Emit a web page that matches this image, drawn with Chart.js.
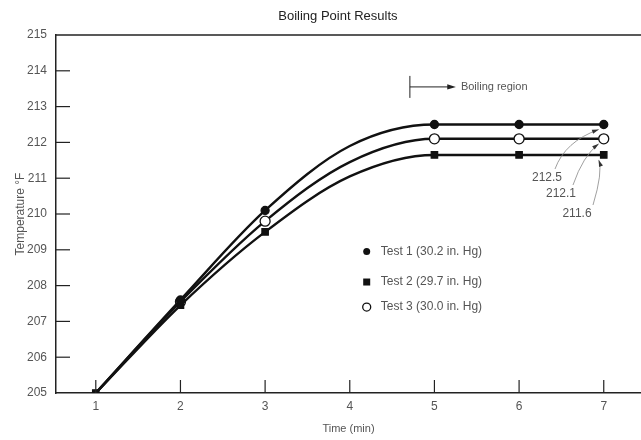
<!DOCTYPE html>
<html>
<head>
<meta charset="utf-8">
<script src="https://cdn.jsdelivr.net/npm/chart.js@4/dist/chart.umd.min.js"></script>
<style>
  html, body { margin:0; padding:0; background:#fff; }
  #wrap { width:641px; height:440px; }
</style>
</head>
<body>
<div id="wrap"><canvas id="c"></canvas></div>
<script>
// boiling point chart — three tests, temp vs time

const timeMin = [1, 2, 3, 4, 5, 6, 7];
const test1 = [205, 207.6, 210.1, 211.9, 212.5, 212.5, 212.5];
const test2 = [205, 207.45, 209.5, 211.05, 211.65, 211.65, 211.65];
const test3 = [205, 207.55, 209.8, 211.45, 212.1, 212.1, 212.1];
const seriesNames = ['Test 1 (30.2 in. Hg)', 'Test 2 (29.7 in. Hg)', 'Test 3 (30.0 in. Hg)'];
const endLabels = ['212.5', '212.1', '211.6'];
const xTicks = [1, 2, 3, 4, 5, 6, 7];
const yTicks = [205, 206, 207, 208, 209, 210, 211, 212, 213, 214, 215];

const INK = '#111';
const GREY = '#555';
const FONT = "'Liberation Sans', Arial, sans-serif";

function ds(label, data, style, radius, skip) {
    return {
        label, data: data.map((y, i) => ({x: timeMin[i], y})),
        borderColor: INK, borderWidth: 2.4,
        pointStyle: style,
        // no marker where the curve only passes through (x=4)
        pointRadius: ctx => skip.includes(ctx.dataIndex) ? 0 : radius,
        pointBackgroundColor: INK,
        pointBorderColor: INK, pointBorderWidth: 1.3,
        cubicInterpolationMode: 'monotone', fill: false
    };
}

const datasets = [
    ds(seriesNames[0], test1, 'circle', 4, [0, 3]),
    ds(seriesNames[1], test2, 'rect', 4.5, [3]),
    {...ds(seriesNames[2], test3, 'circle', 5, [0, 3]), pointBackgroundColor: '#fff'}
];

function marker(ctx, kind, x, y) {
    ctx.save();
    ctx.fillStyle = INK; ctx.strokeStyle = INK; ctx.lineWidth = 1.3;
    if (kind === 0) { ctx.beginPath(); ctx.arc(x, y, 3.5, 0, Math.PI*2); ctx.fill(); }
    else if (kind === 1) { ctx.fillRect(x-3.5, y-3.5, 7, 7); }
    else { ctx.fillStyle = '#fff'; ctx.beginPath(); ctx.arc(x, y, 4, 0, Math.PI*2); ctx.fill(); ctx.stroke(); }
    ctx.restore();
}

function arrowHead(ctx, x, y, ang, len) {
    ctx.beginPath();
    ctx.moveTo(x, y);
    ctx.lineTo(x - len*Math.cos(ang - 0.3), y - len*Math.sin(ang - 0.3));
    ctx.lineTo(x - len*Math.cos(ang + 0.3), y - len*Math.sin(ang + 0.3));
    ctx.closePath(); ctx.fill();
}

const decor = {
    id: 'decor',
    afterDraw(chart) {
        const {ctx, chartArea: a, scales: {x, y}} = chart;
        ctx.save();

        // title
        ctx.fillStyle = '#222';
        ctx.font = '13px ' + FONT;
        ctx.textAlign = 'center'; ctx.textBaseline = 'middle';
        ctx.fillText('Boiling Point Results', x.getPixelForValue(3.86), 16);

        // top frame line
        ctx.strokeStyle = '#222'; ctx.lineWidth = 1.5;
        ctx.beginPath(); ctx.moveTo(a.left, a.top); ctx.lineTo(a.right, a.top); ctx.stroke();

        // inward ticks
        ctx.lineWidth = 1.2;
        yTicks.slice(1, -1).forEach(v => {
            const py = y.getPixelForValue(v);
            ctx.beginPath(); ctx.moveTo(a.left, py); ctx.lineTo(a.left + 14, py); ctx.stroke();
        });
        xTicks.forEach(v => {
            const px = x.getPixelForValue(v);
            ctx.beginPath(); ctx.moveTo(px, a.bottom); ctx.lineTo(px, a.bottom - 13); ctx.stroke();
        });

        // boiling region marker
        const bx = x.getPixelForValue(4.71), by = y.getPixelForValue(213.55);
        ctx.strokeStyle = '#222'; ctx.fillStyle = '#222'; ctx.lineWidth = 1;
        ctx.beginPath(); ctx.moveTo(bx, by - 11); ctx.lineTo(bx, by + 11); ctx.stroke();
        ctx.beginPath(); ctx.moveTo(bx, by); ctx.lineTo(bx + 40, by); ctx.stroke();
        arrowHead(ctx, bx + 46, by, 0, 9);
        ctx.fillStyle = GREY; ctx.font = '11px ' + FONT;
        ctx.textAlign = 'left';
        ctx.fillText('Boiling region', bx + 51, by);

        // legend inside plot
        ctx.font = '12px ' + FONT;
        const lx = x.getPixelForValue(4.2);
        [208.95, 208.1, 207.4].forEach((v, i) => {
            const py = y.getPixelForValue(v);
            marker(ctx, i, lx, py);
            ctx.fillStyle = GREY;
            ctx.fillText(seriesNames[i], lx + 14, py);
        });

        // end value callouts
        const endX = x.getPixelForValue(7);
        const series = [test1, test3, test2];
        const lab = [[547, 178], [561, 194], [577, 214]];
        ctx.strokeStyle = '#888'; ctx.lineWidth = 0.8;
        series.forEach((s, i) => {
            const ty = y.getPixelForValue(s[6]);
            const [tx, ly] = lab[i];
            const sx = tx + 8 + i*4, sy = ly - 9;
            const ex = endX - 5, ey = ty + 5;
            const cx = sx + 10, cy = ey + 12;
            ctx.beginPath(); ctx.moveTo(sx, sy);
            ctx.quadraticCurveTo(cx, cy, ex, ey); ctx.stroke();
            ctx.fillStyle = '#333';
            arrowHead(ctx, ex, ey, Math.atan2(ey - cy, ex - cx), 7);
            ctx.fillStyle = GREY; ctx.textAlign = 'center';
            ctx.fillText(endLabels[i], tx, ly);
        });
        ctx.restore();
    }
};

new Chart(document.getElementById('c'), {
    type: 'line',
    data: {datasets},
    options: {
        responsive: true, maintainAspectRatio: false, animation: false,
        layout: {autoPadding: false, padding: {top: 35, right: 0, left: 0, bottom: 0}},
        plugins: {legend: {display: false}, tooltip: {enabled: false}, title: {display: false}},
        scales: {
            x: {
                type: 'linear', min: 0.53, max: 7.44,
                afterBuildTicks: s => { s.ticks = xTicks.map(v => ({value: v})); },
                afterFit: s => { s.height = 47; s.paddingLeft = 0; s.paddingRight = 0; },
                grid: {display: false, drawTicks: false},
                border: {display: true, color: '#222', width: 1.5},
                ticks: {color: GREY, font: {family: FONT, size: 12}, padding: 6, maxRotation: 0},
                title: {display: true, text: 'Time (min)', color: GREY, font: {family: FONT, size: 11}, padding: {top: 0, bottom: 4}}
            },
            y: {
                type: 'linear', min: 205, max: 215,
                afterBuildTicks: s => { s.ticks = yTicks.map(v => ({value: v})); },
                afterFit: s => { s.width = 56; },
                grid: {display: false, drawTicks: false},
                border: {display: true, color: '#222', width: 1.5},
                ticks: {color: GREY, font: {family: FONT, size: 12}, padding: 9},
                title: {display: true, text: 'Temperature °F', color: GREY, font: {family: FONT, size: 12}, padding: {top: 13, bottom: 0}}
            }
        }
    },
    plugins: [decor]
});
</script>
</body>
</html>
